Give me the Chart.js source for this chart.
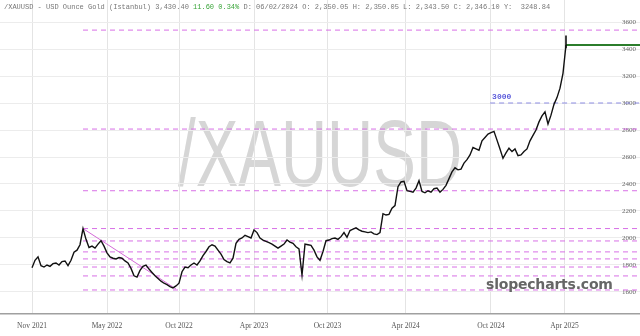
<!DOCTYPE html>
<html>
<head>
<meta charset="utf-8">
<script src="https://cdn.jsdelivr.net/npm/chart.js@4/dist/chart.umd.min.js"></script>
<style>
  body { margin: 0; background: #fff; }
  #wrap { position: relative; width: 640px; height: 336px; overflow: hidden; }
  #myChart { position: absolute; left: 0; top: 0; }
  #head { position: absolute; left: 4px; top: 3px; font: 7px "Liberation Mono", monospace; color: #777; white-space: pre; }
  #head .up { color: #3aa53a; }
  #mark { position: absolute; left: 0; width: 640px; top: 100px; text-align: center; font: 94px "Liberation Sans", Arial, sans-serif; color: #d6d6d6; transform: scaleX(0.68); }
  #site { position: absolute; left: 486px; top: 276px; font: bold 14px "DejaVu Sans", sans-serif; color: #666; letter-spacing: -0.2px; }
</style>
</head>
<body>
<div id="wrap">
  <div id="mark">/XAUUSD</div>
  <canvas id="myChart" width="640" height="336"></canvas>
  <div id="head">/XAUUSD - USD Ounce Gold (Istanbul) 3,430.40 <span class="up">11.60 0.34%</span> D: 06/02/2024 O: 2,350.05 H: 2,350.05 L: 2,343.50 C: 2,346.10 Y:  3248.84</div>
  <div id="site">slopecharts.com</div>
</div>
<script>
// weekly closes, Nov 2021 -> Apr 2025 (one value per week)
const closes = [
  1780, 1835, 1860, 1795, 1785, 1800, 1790, 1810, 1815, 1800,
  1825, 1830, 1795, 1835, 1895, 1910, 1950, 2070, 1990, 1930,
  1940, 1925, 1955, 1980, 1940, 1890, 1860, 1850, 1845, 1855,
  1850, 1830, 1815, 1775, 1720, 1710, 1760, 1790, 1800, 1770,
  1745, 1720, 1700, 1680, 1665, 1655, 1640, 1630, 1645, 1665,
  1750, 1785, 1780, 1800, 1815, 1800, 1830, 1870, 1900, 1935,
  1950, 1940, 1910, 1880, 1840, 1825, 1815, 1850, 1960, 1990,
  2000, 2020, 2010, 2000, 2060, 2040, 2000, 1985, 1975, 1965,
  1955, 1940, 1925, 1940, 1955, 1985, 1970, 1960, 1935, 1920,
  1725, 1955, 1950, 1945, 1910, 1860, 1835, 1900, 1980, 1985,
  1995, 2000, 1990, 2010, 2040, 2005, 2055, 2065, 2075, 2060,
  2050, 2045, 2040, 2045, 2030, 2025, 2040, 2180, 2170, 2175,
  2220, 2240, 2380, 2415, 2420, 2350, 2345, 2340, 2370, 2425,
  2345, 2335, 2350, 2340, 2365, 2370, 2340, 2360, 2390, 2440,
  2490, 2520, 2505, 2510, 2555, 2580, 2615, 2670, 2660, 2650,
  2720, 2745, 2770, 2780, 2790, 2725, 2660, 2590, 2630, 2665,
  2640, 2660, 2610, 2615, 2640, 2660, 2720, 2760, 2800, 2860,
  2905, 2935, 2845, 2910, 2990, 3040, 3110, 3220, 3430
];
const lastHigh = 3500;
const lastLow = 3405;
const lastClose = 3430;

const xTickAt = [0, 25, 49, 74, 98.5, 124.5, 153, 177.5];
const xTickLabels = ['Nov 2021', 'May 2022', 'Oct 2022', 'Apr 2023', 'Oct 2023', 'Apr 2024', 'Oct 2024', 'Apr 2025'];
const yTicks = [1600, 1800, 2000, 2200, 2400, 2600, 2800, 3000, 3200, 3400, 3600];

// horizontal levels drawn from the March 2022 peak
const levelStart = 17;
const levels = [3540, 2807, 2350, 2070, 1978, 1897, 1845, 1785, 1719, 1615];
const blueLevel = 3000;
const blueStart = 152.7;
const trendFrom = [17, 2070];
const trendTo = [48, 1622];

const xMin = -10.67;
const xMax = 202.67;

const levelSets = levels.map(v => ({
  data: [{x: levelStart, y: v}, {x: xMax, y: v}],
  borderColor: '#d870e6',
  borderWidth: 1,
  borderDash: [5, 4],
  pointRadius: 0,
  order: 5
}));

const labelPlugin = {
  id: 'levelLabel',
  afterDatasetsDraw(chart) {
    const c = chart.ctx;
    const x = chart.scales.x.getPixelForValue(blueStart) + 2;
    const y = chart.scales.y.getPixelForValue(blueLevel) - 6;
    c.save();
    c.font = 'bold 8px "Liberation Mono", monospace';
    c.fillStyle = '#5b5bdb';
    c.textBaseline = 'middle';
    c.fillText(String(blueLevel), x, y);
    c.restore();
  }
};

const ctx = document.getElementById('myChart').getContext('2d');
var myChart = new Chart(ctx, {
  type: 'line',
  data: {
    datasets: [
      {
        data: closes.map((v, i) => ({x: i, y: v})),
        borderColor: '#111',
        borderWidth: 1.4,
        pointRadius: 0,
        tension: 0,
        order: 1
      },
      {
        data: [{x: closes.length - 1, y: lastHigh}, {x: closes.length - 1, y: lastLow}],
        borderColor: '#111',
        borderWidth: 1.6,
        pointRadius: 0,
        order: 1
      },
      {
        data: [{x: closes.length - 1, y: lastClose}, {x: xMax, y: lastClose}],
        borderColor: '#2b7d2b',
        borderWidth: 2,
        pointRadius: 0,
        order: 2
      },
      {
        data: [{x: blueStart, y: blueLevel}, {x: xMax, y: blueLevel}],
        borderColor: '#8c8ce2',
        borderWidth: 1,
        borderDash: [5, 4],
        pointRadius: 0,
        order: 4
      },
      {
        data: [{x: trendFrom[0], y: trendFrom[1]}, {x: trendTo[0], y: trendTo[1]}],
        borderColor: '#d46ad8',
        borderWidth: 1,
        pointRadius: 0,
        order: 3
      },
      ...levelSets
    ]
  },
  options: {
    responsive: false,
    animation: false,
    layout: { padding: 0 },
    plugins: { legend: { display: false }, tooltip: { enabled: false } },
    scales: {
      x: {
        type: 'linear',
        min: xMin,
        max: xMax,
        afterBuildTicks: s => { s.ticks = xTickAt.map(v => ({value: v})); },
        afterFit: s => { s.height = 22; s.paddingLeft = 0; s.paddingRight = 0; },
        ticks: {
          autoSkip: false,
          maxRotation: 0,
          padding: 8,
          color: '#555',
          font: { family: '"Liberation Serif", serif', size: 7.5 },
          callback: v => xTickLabels[xTickAt.indexOf(v)]
        },
        grid: { color: '#e4e4e4', drawTicks: false },
        border: { display: true, color: '#a0a0a0', width: 1.5 }
      },
      y: {
        position: 'right',
        min: 1437,
        max: 3763,
        afterBuildTicks: s => { s.ticks = yTicks.map(v => ({value: v})); },
        afterFit: s => { s.width = 0; s.paddingTop = 0; s.paddingBottom = 0; },
        ticks: {
          mirror: true,
          padding: -4,
          color: '#666',
          font: { family: '"Liberation Serif", serif', size: 7 },
          callback: v => String(v)
        },
        grid: { color: '#ececec', drawTicks: false },
        border: { display: false }
      }
    }
  },
  plugins: [labelPlugin]
});
</script>
</body>
</html>
